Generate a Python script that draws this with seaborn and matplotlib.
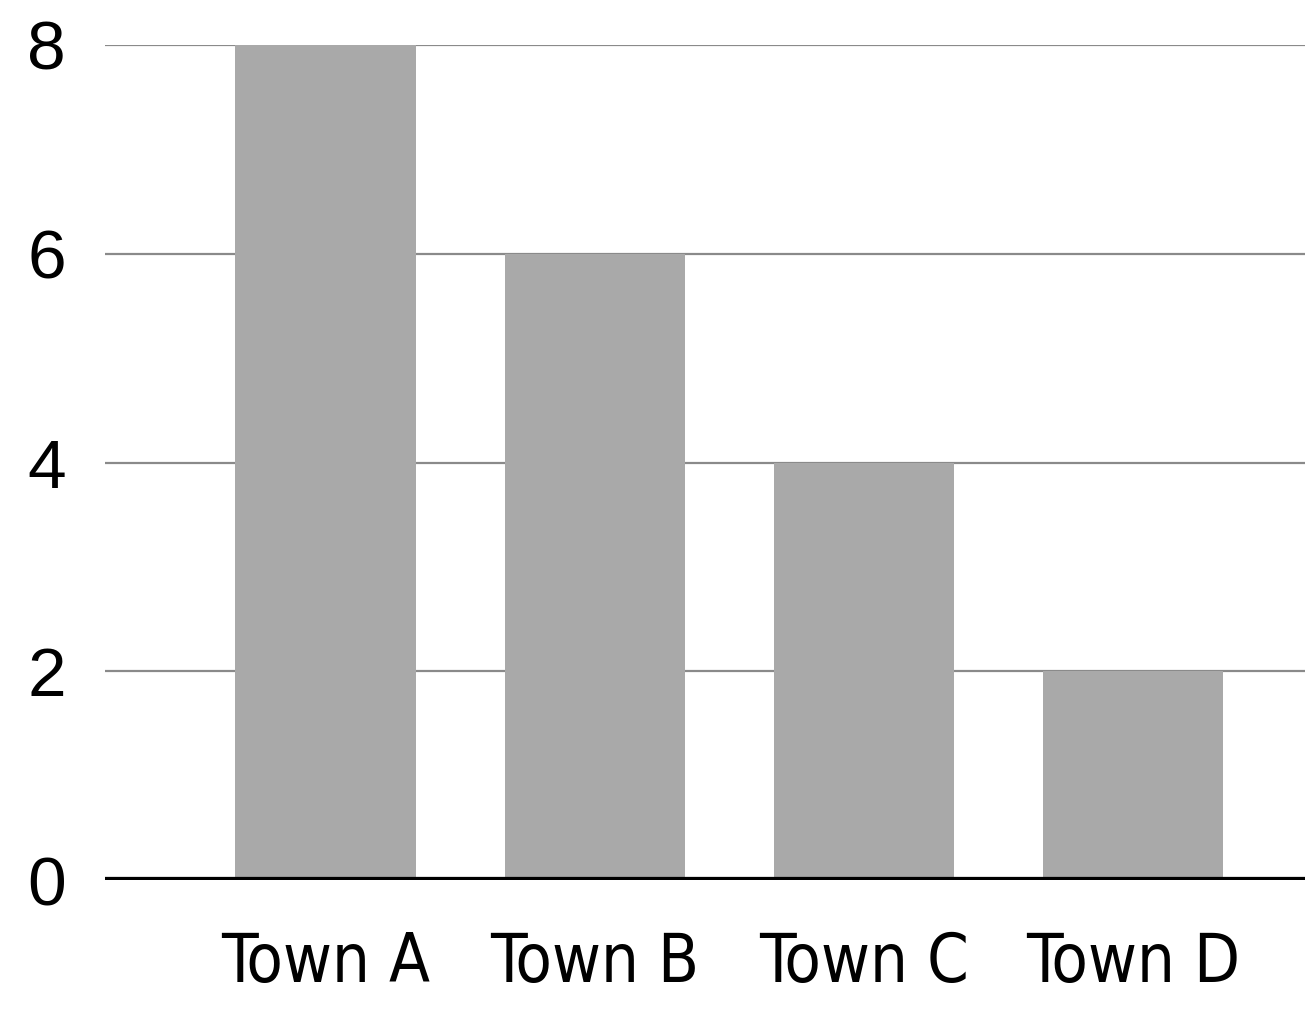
import matplotlib
matplotlib.use("Agg")
import matplotlib.pyplot as plt
import seaborn as sns
import pandas as pd

towns = ["Town A", "Town B", "Town C", "Town D"]
values = [8, 6, 4, 2]
yticks = [0, 2, 4, 6, 8]

sns.set_theme(style="white")
plt.rcParams['font.family'] = ['DejaVu Sans']
plt.rcParams['text.color'] = 'black'

df = pd.DataFrame({"town": towns, "value": values})

fig = plt.figure(figsize=(13.12, 10.17), dpi=100)
ax = fig.add_axes([105 / 1312, 1 - 880 / 1017, 1200 / 1312, 835 / 1017])

sns.barplot(data=df, x="town", y="value", color="#a9a9a9", saturation=1,
            width=0.67, linewidth=0, ax=ax, zorder=1)

for y in yticks[1:]:
    ax.axhline(y, color="#8a8a8a", lw=1.6, zorder=0)
ax.axhline(0, color="black", lw=4.5, zorder=3)

ax.set_xlim(-0.82, 3.64)
ax.set_ylim(0, 8)
ax.set_yticks(yticks)
ax.set_yticklabels([str(v) for v in yticks], fontsize=50, color="black",
                   family=['Liberation Sans', 'DejaVu Sans'])
ax.set_xticks(range(len(towns)))
ax.set_xticklabels(towns, fontsize=48, color="black",
                   family=['DejaVu Sans'], fontstretch='condensed')
ax.tick_params(axis="y", length=0, pad=28)
ax.tick_params(axis="x", length=0, pad=36)
ax.set_xlabel("")
ax.set_ylabel("")
for s in ax.spines.values():
    s.set_visible(False)

fig.savefig("out.png", dpi=100, facecolor="white")
